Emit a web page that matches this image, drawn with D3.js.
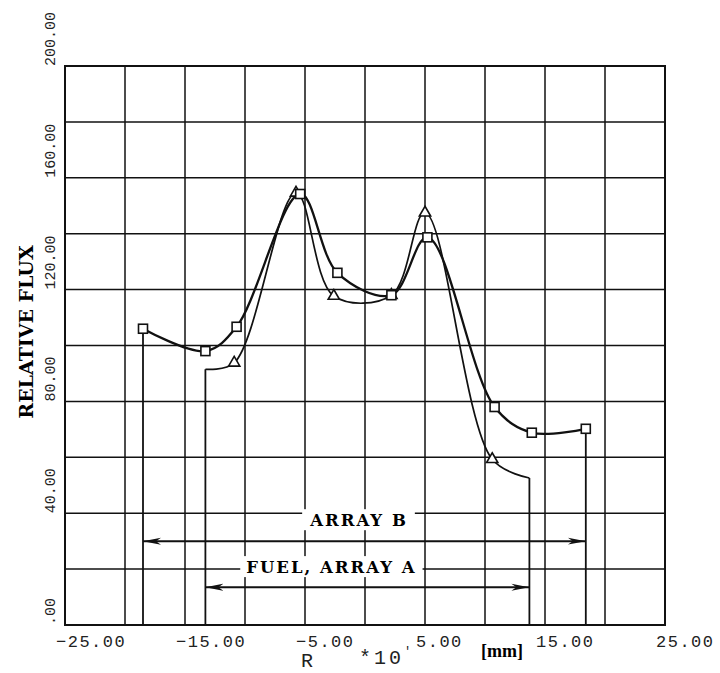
<!DOCTYPE html>
<html>
<head>
<meta charset="utf-8">
<script src="https://cdn.jsdelivr.net/npm/d3@7"></script>
<style>
  body { margin: 0; background: #fff; }
</style>
</head>
<body>
<div id="chart"></div>
<script>
// Array B (squares), R in units of 10^-1 mm
const rB    = [-18.5, -13.3, -10.7, -5.4, -2.3, 2.2, 5.2, 10.8, 13.9, 18.4];
const fluxB = [106, 98, 106.7, 154.2, 126, 118, 138.7, 78, 68.8, 70.2];

// Fuel, array A (triangles); first and last points have no symbol
const rA    = [-13.3, -10.9, -5.75, -2.6, 2.2, 5.0, 10.6, 13.7];
const fluxA = [91.5, 93.8, 154.6, 117.7, 118, 147.5, 59.3, 52.6];
const markA = [false, true, true, true, true, true, true, false];

const xTicks = [-25, -15, -5, 5, 15, 25];
const yTicks = [0, 40, 80, 120, 160, 200];
const yTickLabels = [".00", "40.00", "80.00", "120.00", "160.00", "200.00"];

// flux level where the range arrows are drawn
const arrowLevelB = 30;
const arrowLevelA = 13.5;

const width = 720, height = 673;

const svg = d3.select("#chart")
    .append("svg")
    .attr("width", width)
    .attr("height", height);

svg.append("rect").attr("width", width).attr("height", height).attr("fill", "#fff");

const x = d3.scaleLinear().domain([-25, 25]).range([65, 665]);
const y = d3.scaleLinear().domain([0, 200]).range([625, 66]);

// grid
svg.append("g")
    .selectAll("line")
    .data(d3.range(-20, 25, 5))
    .join("line")
    .attr("x1", d => x(d)).attr("x2", d => x(d))
    .attr("y1", y(0)).attr("y2", y(200))
    .attr("stroke", "#111")
    .attr("stroke-width", 1.5);

svg.append("g")
    .selectAll("line")
    .data(d3.range(20, 200, 20))
    .join("line")
    .attr("x1", x(-25)).attr("x2", x(25))
    .attr("y1", d => y(d)).attr("y2", d => y(d))
    .attr("stroke", "#111")
    .attr("stroke-width", 1.5);

svg.append("rect")
    .attr("x", x(-25)).attr("y", y(200))
    .attr("width", x(25) - x(-25))
    .attr("height", y(0) - y(200))
    .attr("fill", "none")
    .attr("stroke", "#111")
    .attr("stroke-width", 2);

// tick labels
svg.append("g")
    .selectAll("text")
    .data(xTicks)
    .join("text")
    .attr("x", d => x(d) - 9)
    .attr("y", 647)
    .attr("font-family", "Liberation Mono, monospace")
    .attr("font-size", 17)
    .attr("letter-spacing", 1.5)
    .attr("fill", "#222")
    .text(d => d3.format(".2f")(d));

svg.append("g")
    .selectAll("text")
    .data(yTicks)
    .join("text")
    .attr("transform", d => `translate(55,${y(d)}) rotate(-90)`)
    .attr("font-family", "Liberation Mono, monospace")
    .attr("font-size", 15)
    .attr("fill", "#222")
    .text((d, i) => yTickLabels[i]);

// axis titles
svg.append("text")
    .attr("transform", "translate(33,332) rotate(-90)")
    .attr("text-anchor", "middle")
    .attr("font-family", "DejaVu Serif, serif")
    .attr("font-weight", "bold")
    .attr("font-size", 19)
    .text("RELATIVE FLUX");

svg.append("text")
    .attr("x", 301).attr("y", 667)
    .attr("font-family", "Liberation Mono, monospace")
    .attr("font-size", 20)
    .attr("fill", "#222")
    .text("R");

const unit = svg.append("text")
    .attr("x", 359).attr("y", 664)
    .attr("font-family", "Liberation Mono, monospace")
    .attr("font-size", 20)
    .attr("letter-spacing", 3)
    .attr("fill", "#222");
unit.append("tspan").text("*10");
unit.append("tspan").attr("dy", -9).attr("font-size", 12).text("'");

svg.append("text")
    .attr("x", 481).attr("y", 657)
    .attr("font-family", "Liberation Serif, serif")
    .attr("font-weight", "bold")
    .attr("font-size", 18)
    .text("[mm]");

// range labels sitting on the grid lines
function rangeLabel(txt, cx, baseline, pad) {
    const g = svg.append("g");
    const t = g.append("text")
        .attr("x", cx).attr("y", baseline)
        .attr("text-anchor", "middle")
        .attr("font-family", "DejaVu Serif, serif")
        .attr("font-weight", "bold")
        .attr("font-size", 16.5)
        .attr("letter-spacing", 2)
        .text(txt);
    const bb = t.node().getBBox();
    g.insert("rect", "text")
        .attr("x", bb.x - pad).attr("y", bb.y - 2)
        .attr("width", bb.width + 2 * pad).attr("height", bb.height + 2)
        .attr("fill", "#fff");
}
rangeLabel("ARRAY B", x(-0.5), y(40) + 13, 7);
rangeLabel("FUEL, ARRAY A", x(-2.8), y(20) + 4, 6);

// arrows
const defs = svg.append("defs");
defs.append("marker")
    .attr("id", "head")
    .attr("viewBox", "0 -5 18 10")
    .attr("refX", 18).attr("refY", 0)
    .attr("markerUnits", "userSpaceOnUse")
    .attr("markerWidth", 18).attr("markerHeight", 10)
    .attr("orient", "auto-start-reverse")
    .append("path")
    .attr("d", "M18,0 L0,-3.5 L5,0 L0,3.5 Z")
    .attr("fill", "#111");

function rangeArrow(x0, x1, level) {
    svg.append("line")
        .attr("x1", x(x0)).attr("x2", x(x1))
        .attr("y1", y(level)).attr("y2", y(level))
        .attr("stroke", "#111")
        .attr("stroke-width", 2)
        .attr("marker-start", "url(#head)")
        .attr("marker-end", "url(#head)");
}
rangeArrow(rB[0], rB[rB.length - 1], arrowLevelB);
rangeArrow(rA[0], rA[rA.length - 1], arrowLevelA);

// drop lines at the ends of each curve
function dropLine(r, f) {
    svg.append("line")
        .attr("x1", x(r)).attr("x2", x(r))
        .attr("y1", y(f)).attr("y2", y(0))
        .attr("stroke", "#111")
        .attr("stroke-width", 1.8);
}
dropLine(rB[0], fluxB[0]);
dropLine(rB[rB.length - 1], fluxB[fluxB.length - 1]);
dropLine(rA[0], fluxA[0]);
dropLine(rA[rA.length - 1], fluxA[fluxA.length - 1]);

// curves
const line = d3.line()
    .x(d => x(d[0]))
    .y(d => y(d[1]))
    .curve(d3.curveCatmullRom.alpha(0.5));

const ptsA = d3.zip(rA, fluxA);
const ptsB = d3.zip(rB, fluxB);

svg.append("path")
    .datum(ptsA)
    .attr("d", line)
    .attr("fill", "none")
    .attr("stroke", "#111")
    .attr("stroke-width", 1.7);

svg.append("path")
    .datum(ptsB)
    .attr("d", line)
    .attr("fill", "none")
    .attr("stroke", "#111")
    .attr("stroke-width", 2.3);

// symbols
svg.append("g")
    .selectAll("path")
    .data(ptsA.filter((d, i) => markA[i]))
    .join("path")
    .attr("d", d3.symbol(d3.symbolTriangle).size(55))
    .attr("transform", d => `translate(${x(d[0])},${y(d[1])})`)
    .attr("fill", "#fff")
    .attr("stroke", "#111")
    .attr("stroke-width", 1.6);

svg.append("g")
    .selectAll("rect")
    .data(ptsB)
    .join("rect")
    .attr("x", d => x(d[0]) - 4.5)
    .attr("y", d => y(d[1]) - 4.5)
    .attr("width", 9).attr("height", 9)
    .attr("fill", "#fff")
    .attr("stroke", "#111")
    .attr("stroke-width", 1.6);
</script>
</body>
</html>
